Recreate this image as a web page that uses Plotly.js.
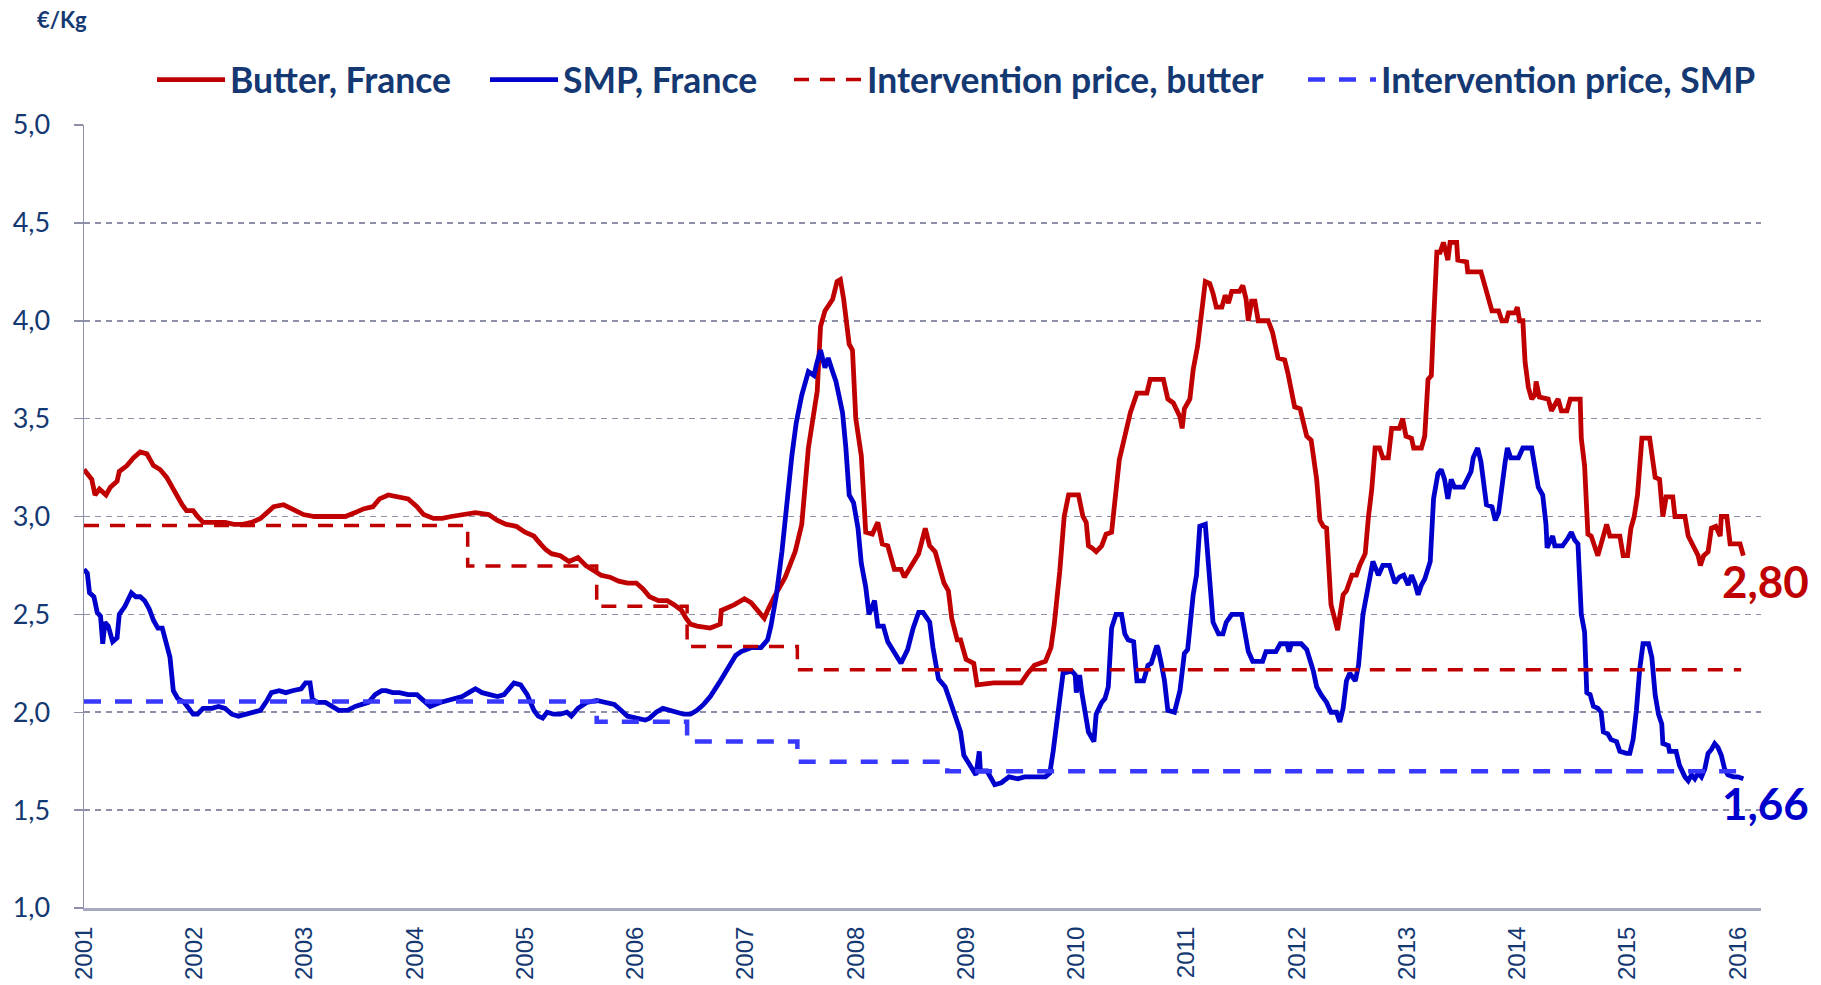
<!DOCTYPE html>
<html>
<head>
<meta charset="utf-8">
<script src="https://cdn.plot.ly/plotly-3.0.1.min.js"></script>
<style>
  html, body { margin: 0; padding: 0; background: #ffffff; }
  #chart { width: 1821px; height: 985px; }
</style>
</head>
<body>
<div id="chart"></div>
<script>
// ---- Data (decimal year, €/kg) ----
const butterFrance = [
 [2001.00,3.24],[2001.04,3.21],[2001.07,3.19],[2001.10,3.11],[2001.14,3.14],[2001.20,3.11],[2001.24,3.15],
 [2001.30,3.18],[2001.32,3.23],[2001.39,3.26],[2001.45,3.30],[2001.51,3.33],[2001.57,3.32],[2001.63,3.26],
 [2001.69,3.24],[2001.75,3.20],[2001.81,3.14],[2001.85,3.09],[2001.89,3.06],[2001.93,3.03],[2001.99,3.03],
 [2002.03,3.00],[2002.08,2.97],[2002.20,2.97],[2002.28,2.97],[2002.36,2.96],[2002.44,2.96],[2002.52,2.97],
 [2002.60,2.99],[2002.66,3.02],[2002.72,3.05],[2002.81,3.06],[2002.89,3.04],[2002.99,3.01],[2003.09,3.00],
 [2003.21,3.00],[2003.29,3.00],[2003.37,3.00],[2003.46,3.02],[2003.54,3.04],[2003.62,3.05],[2003.68,3.09],
 [2003.76,3.11],[2003.86,3.10],[2003.94,3.09],[2004.02,3.05],[2004.08,3.01],[2004.17,2.99],[2004.25,2.99],
 [2004.33,3.00],[2004.43,3.01],[2004.55,3.02],[2004.67,3.01],[2004.75,2.98],[2004.83,2.96],[2004.92,2.95],
 [2005.00,2.92],[2005.08,2.90],[2005.14,2.86],[2005.19,2.83],[2005.24,2.81],[2005.32,2.80],[2005.40,2.77],
 [2005.48,2.79],[2005.55,2.75],[2005.63,2.72],[2005.69,2.70],[2005.77,2.69],[2005.85,2.67],[2005.93,2.66],
 [2006.01,2.66],[2006.07,2.63],[2006.13,2.59],[2006.21,2.57],[2006.29,2.57],[2006.35,2.55],[2006.42,2.52],
 [2006.46,2.48],[2006.50,2.45],[2006.56,2.44],[2006.68,2.43],[2006.77,2.45],[2006.78,2.52],[2006.90,2.55],
 [2006.99,2.58],[2007.05,2.56],[2007.11,2.52],[2007.17,2.48],[2007.20,2.52],[2007.26,2.59],[2007.36,2.69],
 [2007.45,2.82],[2007.51,2.96],[2007.53,3.10],[2007.57,3.35],[2007.65,3.64],[2007.68,3.97],[2007.72,4.05],
 [2007.79,4.11],[2007.83,4.20],[2007.86,4.21],[2007.89,4.11],[2007.94,3.88],[2007.97,3.85],[2008.00,3.50],
 [2008.05,3.31],[2008.09,2.92],[2008.15,2.91],[2008.20,2.97],[2008.24,2.86],[2008.29,2.85],[2008.35,2.73],
 [2008.41,2.73],[2008.44,2.69],[2008.51,2.75],[2008.57,2.81],[2008.63,2.94],[2008.67,2.85],[2008.72,2.82],
 [2008.77,2.72],[2008.80,2.66],[2008.84,2.62],[2008.87,2.48],[2008.92,2.37],[2008.95,2.37],[2009.00,2.27],
 [2009.07,2.25],[2009.10,2.14],[2009.25,2.15],[2009.40,2.15],[2009.50,2.15],[2009.56,2.20],[2009.62,2.24],
 [2009.72,2.26],[2009.77,2.33],[2009.80,2.45],[2009.85,2.72],[2009.89,3.00],[2009.93,3.11],[2010.02,3.11],
 [2010.06,3.00],[2010.09,2.97],[2010.11,2.85],[2010.14,2.84],[2010.18,2.82],[2010.23,2.85],[2010.27,2.91],
 [2010.32,2.92],[2010.36,3.16],[2010.39,3.29],[2010.44,3.41],[2010.49,3.53],[2010.55,3.63],[2010.64,3.63],
 [2010.67,3.70],[2010.79,3.70],[2010.83,3.60],[2010.88,3.58],[2010.94,3.51],[2010.96,3.45],[2010.98,3.55],
 [2011.03,3.60],[2011.06,3.75],[2011.10,3.87],[2011.17,4.20],[2011.21,4.19],[2011.24,4.14],[2011.27,4.07],
 [2011.32,4.07],[2011.35,4.13],[2011.38,4.09],[2011.41,4.15],[2011.48,4.15],[2011.51,4.18],[2011.54,4.11],
 [2011.56,4.00],[2011.59,4.10],[2011.62,4.10],[2011.65,4.00],[2011.74,4.00],[2011.78,3.94],[2011.83,3.81],
 [2011.89,3.80],[2011.92,3.73],[2011.98,3.56],[2012.03,3.55],[2012.09,3.41],[2012.13,3.39],[2012.18,3.19],
 [2012.21,2.98],[2012.24,2.95],[2012.27,2.94],[2012.31,2.55],[2012.37,2.42],[2012.42,2.60],[2012.45,2.62],
 [2012.50,2.70],[2012.54,2.70],[2012.57,2.75],[2012.62,2.81],[2012.65,3.00],[2012.68,3.14],[2012.71,3.35],
 [2012.75,3.35],[2012.78,3.30],[2012.83,3.30],[2012.86,3.45],[2012.93,3.45],[2012.96,3.50],[2012.99,3.41],
 [2013.04,3.40],[2013.06,3.35],[2013.13,3.35],[2013.16,3.41],[2013.19,3.70],[2013.22,3.72],[2013.24,3.99],
 [2013.27,4.35],[2013.30,4.35],[2013.33,4.40],[2013.37,4.31],[2013.39,4.40],[2013.45,4.40],[2013.46,4.31],
 [2013.54,4.30],[2013.55,4.25],[2013.67,4.25],[2013.72,4.15],[2013.77,4.05],[2013.83,4.05],[2013.86,4.00],
 [2013.90,4.00],[2013.92,4.04],[2013.98,4.04],[2014.00,4.07],[2014.02,4.00],[2014.05,4.00],[2014.07,3.79],
 [2014.10,3.66],[2014.13,3.60],[2014.16,3.62],[2014.17,3.69],[2014.20,3.61],[2014.28,3.60],[2014.31,3.54],
 [2014.37,3.60],[2014.40,3.54],[2014.45,3.54],[2014.48,3.60],[2014.57,3.60],[2014.58,3.40],[2014.61,3.26],
 [2014.64,2.91],[2014.67,2.90],[2014.73,2.80],[2014.76,2.86],[2014.81,2.96],[2014.84,2.90],[2014.93,2.90],
 [2014.96,2.80],[2015.00,2.80],[2015.03,2.94],[2015.06,3.00],[2015.09,3.11],[2015.13,3.40],[2015.20,3.40],
 [2015.25,3.20],[2015.29,3.19],[2015.32,3.00],[2015.35,3.10],[2015.41,3.10],[2015.43,3.00],[2015.52,3.00],
 [2015.55,2.90],[2015.59,2.86],[2015.64,2.80],[2015.66,2.75],[2015.69,2.80],[2015.73,2.82],[2015.76,2.94],
 [2015.80,2.95],[2015.84,2.90],[2015.85,3.00],[2015.90,3.00],[2015.93,2.86],[2016.02,2.86],[2016.05,2.80]
];

const smpFrance = [
 [2001.00,2.73],[2001.03,2.71],[2001.05,2.61],[2001.09,2.59],[2001.12,2.51],[2001.15,2.49],[2001.17,2.35],
 [2001.19,2.46],[2001.22,2.44],[2001.26,2.36],[2001.30,2.38],[2001.32,2.50],[2001.37,2.54],[2001.43,2.61],
 [2001.47,2.59],[2001.51,2.59],[2001.55,2.57],[2001.59,2.53],[2001.63,2.47],[2001.67,2.43],[2001.71,2.43],
 [2001.75,2.35],[2001.78,2.28],[2001.81,2.11],[2001.85,2.07],[2001.91,2.05],[2001.95,2.02],[2001.99,1.99],
 [2002.03,1.99],[2002.08,2.02],[2002.16,2.02],[2002.22,2.03],[2002.28,2.02],[2002.34,1.99],[2002.40,1.98],
 [2002.46,1.99],[2002.52,2.00],[2002.60,2.01],[2002.66,2.06],[2002.70,2.10],[2002.77,2.11],[2002.83,2.10],
 [2002.89,2.11],[2002.97,2.12],[2003.01,2.15],[2003.05,2.15],[2003.07,2.07],[2003.11,2.05],[2003.19,2.05],
 [2003.25,2.03],[2003.31,2.01],[2003.39,2.01],[2003.46,2.03],[2003.52,2.04],[2003.58,2.05],[2003.64,2.09],
 [2003.70,2.11],[2003.74,2.11],[2003.80,2.10],[2003.86,2.10],[2003.94,2.09],[2004.02,2.09],[2004.08,2.06],
 [2004.14,2.03],[2004.23,2.05],[2004.31,2.06],[2004.37,2.07],[2004.43,2.08],[2004.49,2.10],[2004.55,2.12],
 [2004.61,2.10],[2004.67,2.09],[2004.75,2.08],[2004.81,2.09],[2004.86,2.12],[2004.90,2.15],[2004.96,2.14],
 [2005.02,2.09],[2005.08,2.01],[2005.12,1.98],[2005.16,1.97],[2005.20,2.00],[2005.26,1.99],[2005.32,1.99],
 [2005.38,2.00],[2005.42,1.98],[2005.48,2.02],[2005.56,2.05],[2005.65,2.06],[2005.73,2.05],[2005.81,2.04],
 [2005.87,2.01],[2005.93,1.98],[2006.01,1.97],[2006.09,1.96],[2006.13,1.97],[2006.19,2.00],[2006.25,2.02],
 [2006.32,2.01],[2006.38,2.00],[2006.44,1.99],[2006.50,1.99],[2006.56,2.01],[2006.62,2.04],[2006.68,2.08],
 [2006.76,2.15],[2006.81,2.20],[2006.87,2.26],[2006.91,2.29],[2006.96,2.31],[2007.05,2.33],[2007.14,2.33],
 [2007.20,2.37],[2007.23,2.44],[2007.28,2.60],[2007.33,2.82],[2007.37,3.05],[2007.42,3.31],[2007.46,3.48],
 [2007.51,3.62],[2007.57,3.74],[2007.62,3.72],[2007.65,3.79],[2007.68,3.85],[2007.72,3.76],[2007.75,3.81],
 [2007.79,3.74],[2007.82,3.69],[2007.85,3.61],[2007.88,3.53],[2007.91,3.35],[2007.94,3.11],[2007.98,3.07],
 [2008.02,2.94],[2008.05,2.76],[2008.09,2.64],[2008.12,2.50],[2008.17,2.57],[2008.20,2.44],[2008.25,2.44],
 [2008.29,2.36],[2008.35,2.31],[2008.41,2.25],[2008.47,2.32],[2008.52,2.43],[2008.57,2.51],[2008.61,2.51],
 [2008.67,2.46],[2008.70,2.33],[2008.75,2.17],[2008.81,2.13],[2008.86,2.05],[2008.90,1.99],[2008.95,1.90],
 [2008.98,1.78],[2009.04,1.73],[2009.09,1.68],[2009.12,1.80],[2009.13,1.70],[2009.19,1.70],[2009.26,1.63],
 [2009.32,1.64],[2009.39,1.67],[2009.47,1.66],[2009.53,1.67],[2009.72,1.67],[2009.76,1.69],[2009.79,1.80],
 [2009.81,1.89],[2009.84,2.01],[2009.85,2.09],[2009.88,2.20],[2009.96,2.21],[2009.99,2.19],[2010.00,2.10],
 [2010.03,2.19],[2010.05,2.10],[2010.08,1.99],[2010.11,1.90],[2010.14,1.87],[2010.16,1.85],[2010.18,1.99],
 [2010.23,2.05],[2010.26,2.07],[2010.29,2.13],[2010.32,2.43],[2010.36,2.50],[2010.41,2.50],[2010.44,2.40],
 [2010.47,2.37],[2010.52,2.36],[2010.55,2.16],[2010.61,2.16],[2010.65,2.24],[2010.68,2.25],[2010.73,2.34],
 [2010.74,2.33],[2010.77,2.25],[2010.80,2.16],[2010.83,2.01],[2010.89,2.00],[2010.94,2.11],[2010.98,2.30],
 [2011.01,2.32],[2011.06,2.60],[2011.09,2.70],[2011.12,2.95],[2011.17,2.96],[2011.20,2.75],[2011.24,2.46],
 [2011.29,2.40],[2011.33,2.40],[2011.36,2.46],[2011.41,2.50],[2011.50,2.50],[2011.53,2.40],[2011.56,2.31],
 [2011.60,2.26],[2011.69,2.26],[2011.72,2.31],[2011.81,2.31],[2011.85,2.35],[2011.91,2.35],[2011.93,2.31],
 [2011.95,2.35],[2012.04,2.35],[2012.09,2.32],[2012.15,2.21],[2012.18,2.13],[2012.22,2.09],[2012.27,2.05],
 [2012.31,2.00],[2012.36,2.00],[2012.39,1.95],[2012.42,2.02],[2012.45,2.16],[2012.48,2.20],[2012.53,2.16],
 [2012.56,2.24],[2012.60,2.50],[2012.65,2.66],[2012.69,2.77],[2012.74,2.70],[2012.78,2.75],[2012.84,2.75],
 [2012.89,2.66],[2012.93,2.69],[2012.97,2.70],[2013.01,2.65],[2013.04,2.70],[2013.07,2.66],[2013.10,2.60],
 [2013.13,2.65],[2013.16,2.68],[2013.21,2.77],[2013.24,3.09],[2013.28,3.22],[2013.31,3.24],[2013.34,3.19],
 [2013.37,3.09],[2013.40,3.19],[2013.43,3.15],[2013.51,3.15],[2013.55,3.20],[2013.58,3.23],[2013.60,3.30],
 [2013.64,3.35],[2013.67,3.28],[2013.72,3.06],[2013.77,3.05],[2013.80,2.98],[2013.83,3.02],[2013.86,3.17],
 [2013.89,3.28],[2013.91,3.35],[2013.94,3.30],[2014.01,3.30],[2014.05,3.35],[2014.13,3.35],[2014.16,3.26],
 [2014.19,3.15],[2014.23,3.11],[2014.26,2.96],[2014.27,2.84],[2014.32,2.90],[2014.34,2.85],[2014.41,2.85],
 [2014.46,2.89],[2014.49,2.92],[2014.52,2.88],[2014.55,2.86],[2014.58,2.50],[2014.61,2.41],[2014.63,2.10],
 [2014.66,2.09],[2014.69,2.03],[2014.73,2.02],[2014.76,2.00],[2014.78,1.90],[2014.82,1.89],[2014.85,1.86],
 [2014.90,1.85],[2014.93,1.80],[2014.99,1.79],[2015.02,1.79],[2015.05,1.86],[2015.08,2.01],[2015.11,2.22],
 [2015.14,2.35],[2015.19,2.35],[2015.22,2.28],[2015.25,2.09],[2015.28,1.99],[2015.31,1.94],[2015.32,1.84],
 [2015.37,1.83],[2015.38,1.80],[2015.44,1.80],[2015.47,1.73],[2015.52,1.67],[2015.55,1.65],[2015.58,1.68],
 [2015.61,1.66],[2015.64,1.69],[2015.67,1.67],[2015.70,1.71],[2015.73,1.79],[2015.76,1.81],[2015.79,1.84],
 [2015.82,1.82],[2015.85,1.78],[2015.88,1.71],[2015.91,1.68],[2015.96,1.67],[2016.00,1.67],[2016.05,1.66]
];

// Intervention prices (step changes)
const butterInterventionYears = [2001.00, 2004.48, 2005.65, 2006.47, 2007.47, 2016.03];
const butterInterventionPrice = [2.954, 2.747, 2.542, 2.336, 2.2175, 2.2175];
const smpInterventionYears = [2001.00, 2005.65, 2006.47, 2007.47, 2008.83, 2016.05];
const smpInterventionPrice = [2.055, 1.952, 1.850, 1.747, 1.698, 1.698];

const yearTicks = [2001,2002,2003,2004,2005,2006,2007,2008,2009,2010,2011,2012,2013,2014,2015,2016];
const yearTickLabels = yearTicks.map(String);
const yTicks = [1.0,1.5,2.0,2.5,3.0,3.5,4.0,4.5,5.0];

const seriesNames = ['Butter, France', 'SMP, France', 'Intervention price, butter', 'Intervention price, SMP'];

// ---- Styling ----
const NAVY = '#143872';
const RED = '#C00000';
const BLUE = '#0000CC';
const LIGHTBLUE = '#3838FF';
const GRID = '#8D90A8';

const fmt = v => v.toFixed(2).replace('.', ',');
const lastButter = butterFrance[butterFrance.length - 1][1];
const lastSmp = smpFrance[smpFrance.length - 1][1];

const traces = [
  { type: 'scatter', mode: 'lines', name: seriesNames[0], legend: 'legend',
    x: butterFrance.map(p => p[0]), y: butterFrance.map(p => p[1]),
    line: { color: RED, width: 4.8 }, hoverinfo: 'skip' },
  { type: 'scatter', mode: 'lines', name: seriesNames[1], legend: 'legend2',
    x: smpFrance.map(p => p[0]), y: smpFrance.map(p => p[1]),
    line: { color: BLUE, width: 4.8 }, hoverinfo: 'skip' },
  { type: 'scatter', mode: 'lines', name: seriesNames[2], legend: 'legend3',
    x: butterInterventionYears, y: butterInterventionPrice,
    line: { color: RED, width: 3.5, dash: '15px,11px', shape: 'hv' }, hoverinfo: 'skip' },
  { type: 'scatter', mode: 'lines', name: seriesNames[3], legend: 'legend4',
    x: smpInterventionYears, y: smpInterventionPrice,
    line: { color: LIGHTBLUE, width: 4.5, dash: '17px,14px', shape: 'hv' }, hoverinfo: 'skip' }
];

const W = 1821, H = 985;
const L = 84, R = 60, T = 125, B = 77;
const plotW = W - L - R, plotH = H - T - B;
const px2paperX = px => (px - L) / plotW;
const px2paperY = py => (H - B - py) / plotH;

const legendFont = { family: 'Lato, "Open Sans", sans-serif', size: 35.5, color: NAVY, weight: 700 };
function legendAt(lineStartPx) {
  return {
    orientation: 'h', x: px2paperX(lineStartPx - 5), xanchor: 'left',
    y: px2paperY(80), yanchor: 'middle',
    bgcolor: 'rgba(0,0,0,0)', borderwidth: 0, itemwidth: 68,
    font: legendFont, itemclick: false, itemdoubleclick: false
  };
}

const layout = {
  width: W, height: H,
  margin: { l: L, r: R, t: T, b: B, pad: 0 },
  paper_bgcolor: '#ffffff', plot_bgcolor: '#ffffff',
  separators: ',.',
  showlegend: true,
  legend: legendAt(157),
  legend2: legendAt(490),
  legend3: legendAt(794),
  legend4: legendAt(1308),
  xaxis: {
    type: 'linear', range: [2001, 2016.21], autorange: false,
    tickmode: 'array', tickvals: yearTicks, ticktext: yearTickLabels,
    tickangle: -90, ticks: '', showgrid: false, zeroline: false,
    showline: true, linecolor: '#A7AAC0', linewidth: 3,
    tickfont: { family: '"Liberation Sans", Arial, sans-serif', size: 24, color: NAVY },
    ticklabelstandoff: 6, automargin: false, fixedrange: true
  },
  yaxis: {
    range: [1, 5], autorange: false,
    tickmode: 'array', tickvals: yTicks, tickformat: '.1f',
    showgrid: true, gridcolor: GRID, gridwidth: 1.6, griddash: '6px,5px',
    zeroline: false, showline: true, linecolor: GRID, linewidth: 1.5,
    ticks: 'outside', ticklen: 9, tickcolor: GRID, tickwidth: 1.5,
    tickfont: { family: 'Lato, "Open Sans", sans-serif', size: 27, color: NAVY },
    ticklabelstandoff: 18, automargin: false, fixedrange: true
  },
  annotations: [
    { xref: 'paper', yref: 'paper', x: px2paperX(35), y: px2paperY(19), xanchor: 'left', yanchor: 'middle',
      text: '€/Kg', showarrow: false,
      font: { family: 'Lato, "Open Sans", sans-serif', size: 22, color: NAVY, weight: 700 } },
    { xref: 'paper', yref: 'paper', x: px2paperX(1765), y: px2paperY(581), xanchor: 'center', yanchor: 'middle',
      text: fmt(lastButter), showarrow: false,
      font: { family: 'Lato, "Open Sans", sans-serif', size: 44, color: RED, weight: 700 } },
    { xref: 'paper', yref: 'paper', x: px2paperX(1765), y: px2paperY(803), xanchor: 'center', yanchor: 'middle',
      text: fmt(lastSmp), showarrow: false,
      font: { family: 'Lato, "Open Sans", sans-serif', size: 44, color: BLUE, weight: 700 } }
  ]
};

Plotly.newPlot('chart', traces, layout, { staticPlot: true, displayModeBar: false });
</script>
</body>
</html>
